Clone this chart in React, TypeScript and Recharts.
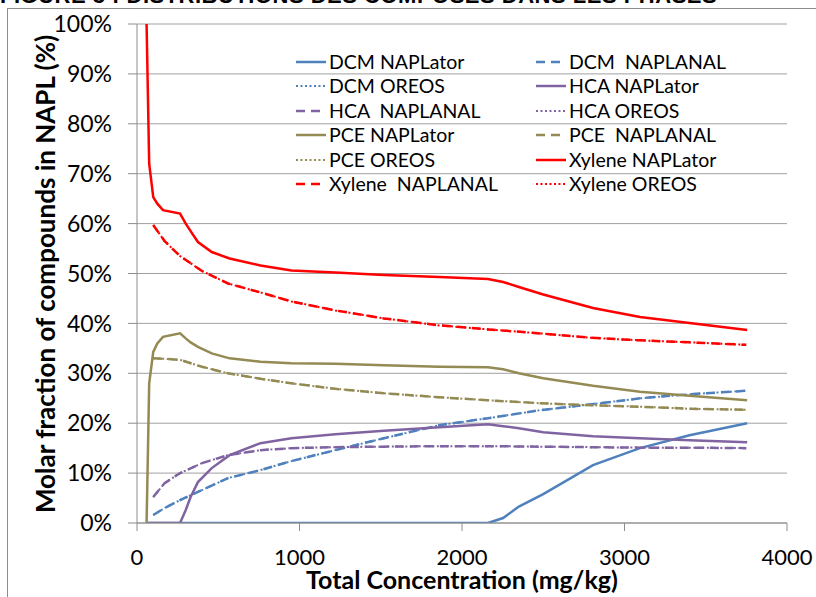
import { LineChart, Line, XAxis, YAxis, CartesianGrid, Legend } from "recharts"

// NAPLator runs (solid)
const xLator = [59, 75, 100, 125, 160, 265, 300, 330, 375, 460, 570, 760, 950, 1220, 1520, 1860, 2160, 2253, 2350, 2500, 2806, 3095, 3400, 3755]
const dcmLator = [0, 0, 0, 0, 0, 0, 0, 0, 0, 0, 0, 0, 0, 0, 0, 0, 0, 1, 3.3, 5.8, 11.6, 15, 17.6, 20]
const hcaLator = [0, 0, 0, 0, 0, 0, 2.6, 5.2, 8.2, 11, 13.6, 16, 17, 17.8, 18.5, 19.2, 19.8, 19.4, 19, 18.2, 17.4, 17, 16.6, 16.2]
const pceLator = [0, 28, 34.3, 36, 37.3, 38, 37, 36.2, 35.3, 34, 33, 32.3, 32, 31.9, 31.6, 31.3, 31.2, 30.8, 30, 29, 27.5, 26.3, 25.5, 24.6]
const xylLator = [100, 72, 65.3, 64, 62.7, 62, 60, 58.5, 56.3, 54.3, 53, 51.6, 50.6, 50.2, 49.7, 49.3, 48.9, 48.3, 47.3, 45.8, 43.1, 41.3, 40.1, 38.7]

// NAPLANAL runs (dashed)
const xAnal = [100, 170, 265, 400, 560, 760, 950, 1220, 1520, 1860, 2160, 2480, 2800, 3100, 3400, 3750]
const dcmAnal = [1.6, 3, 4.6, 6.6, 9, 10.6, 12.4, 14.6, 17, 19.6, 21, 22.6, 23.8, 25, 25.8, 26.5]
const hcaAnal = [5.2, 8, 10, 12, 13.6, 14.6, 15, 15.2, 15.3, 15.4, 15.4, 15.3, 15.2, 15.1, 15.1, 15]
const pceAnal = [33, 32.9, 32.7, 31.3, 30, 28.9, 28, 26.9, 26, 25.2, 24.6, 24, 23.6, 23.3, 22.9, 22.7]
const xylAnal = [59.7, 56.5, 53.5, 50.5, 48, 46.2, 44.4, 42.6, 41, 39.6, 38.8, 38, 37.1, 36.6, 36.2, 35.7]

// OREOS runs (dotted) - lie on top of the NAPLANAL curves in the figure
const xOreos = [100, 170, 265, 400, 560, 760, 950, 1220, 1520, 1860, 2160, 2480, 2800, 3100, 3400, 3750]
const dcmOreos = [1.6, 3, 4.6, 6.6, 9, 10.6, 12.4, 14.6, 17, 19.6, 21, 22.6, 23.8, 25, 25.8, 26.5]
const hcaOreos = [5.2, 8, 10, 12, 13.6, 14.6, 15, 15.2, 15.3, 15.4, 15.4, 15.3, 15.2, 15.1, 15.1, 15]
const pceOreos = [33, 32.9, 32.7, 31.3, 30, 28.9, 28, 26.9, 26, 25.2, 24.6, 24, 23.6, 23.3, 22.9, 22.7]
const xylOreos = [59.7, 56.5, 53.5, 50.5, 48, 46.2, 44.4, 42.6, 41, 39.6, 38.8, 38, 37.1, 36.6, 36.2, 35.7]

const xTicks = [0, 1000, 2000, 3000, 4000]
const yTicks = [0, 10, 20, 30, 40, 50, 60, 70, 80, 90, 100]

const BLUE = "#4F81BD"
const PURPLE = "#8064A2"
const OLIVE = "#948A54"
const RED = "#FF0000"

const SOLID = undefined
const DASH = "9 6"
const DOT = "2 2.5"

const toPoints = (xs: number[], ys: number[]) => xs.map((x, i) => ({ x, y: ys[i] }))

const series = [
  { name: "DCM NAPLator", color: BLUE, dash: SOLID, data: toPoints(xLator, dcmLator) },
  { name: "DCM  NAPLANAL", color: BLUE, dash: DASH, data: toPoints(xAnal, dcmAnal) },
  { name: "DCM OREOS", color: BLUE, dash: DOT, data: toPoints(xOreos, dcmOreos) },
  { name: "HCA NAPLator", color: PURPLE, dash: SOLID, data: toPoints(xLator, hcaLator) },
  { name: "HCA  NAPLANAL", color: PURPLE, dash: DASH, data: toPoints(xAnal, hcaAnal) },
  { name: "HCA OREOS", color: PURPLE, dash: DOT, data: toPoints(xOreos, hcaOreos) },
  { name: "PCE NAPLator", color: OLIVE, dash: SOLID, data: toPoints(xLator, pceLator) },
  { name: "PCE  NAPLANAL", color: OLIVE, dash: DASH, data: toPoints(xAnal, pceAnal) },
  { name: "PCE OREOS", color: OLIVE, dash: DOT, data: toPoints(xOreos, pceOreos) },
  { name: "Xylene NAPLator", color: RED, dash: SOLID, data: toPoints(xLator, xylLator) },
  { name: "Xylene  NAPLANAL", color: RED, dash: DASH, data: toPoints(xAnal, xylAnal) },
  { name: "Xylene OREOS", color: RED, dash: DOT, data: toPoints(xOreos, xylOreos) },
]

const FONT = "Lato, 'Open Sans', sans-serif"

function LegendGrid() {
  return (
    <div style={{ display: "grid", gridTemplateColumns: "240px 220px", fontFamily: FONT, fontSize: 19.5, color: "#000" }}>
      {series.map(s => (
        <div key={s.name} style={{ display: "flex", alignItems: "center", height: 24.5 }}>
          <svg width={30} height={6} style={{ marginRight: 3 }}>
            <line x1={0} y1={3} x2={30} y2={3} stroke={s.color}
              strokeWidth={s.dash === DOT ? 2 : 2.5} strokeDasharray={s.dash} />
          </svg>
          <span style={{ whiteSpace: "pre", lineHeight: "24px" }}>{s.name}</span>
        </div>
      ))}
    </div>
  )
}

export default function App() {
  return (
    <div style={{ position: "fixed", left: 0, top: 0, width: 816, height: 597, overflow: "hidden", background: "#fff" }}>
      <div style={{
        position: "absolute", left: 0, top: -17, whiteSpace: "nowrap",
        fontFamily: "'Liberation Sans', Arial, sans-serif", fontWeight: 700, fontSize: 22, letterSpacing: 0.5,
      }}>
        FIGURE 3 : DISTRIBUTIONS DES COMPOSÉS DANS LES PHASES
      </div>
      <div style={{
        position: "absolute", left: 7, top: 8, width: 900, height: 700,
        borderLeft: "1px solid #8c8c8c", borderTop: "1px solid #8c8c8c",
      }} />
      <div style={{ position: "absolute", left: 0, top: 0 }}>
        <LineChart width={816} height={597} margin={{ top: 24, right: 29, left: 0, bottom: 0 }}>
          <CartesianGrid vertical={false} stroke="#a0a0a0" strokeWidth={1} />
          <XAxis
            type="number"
            dataKey="x"
            domain={[0, 4000]}
            ticks={xTicks}
            allowDataOverflow
            height={74}
            tick={{ fontSize: 22, fill: "#000", fontFamily: FONT }}
            tickSize={8}
            tickMargin={18}
            stroke="#8c8c8c"
            label={{
              content: () => (
                <text x={462} y={589} textAnchor="middle" fontFamily={FONT} fontWeight={700} fontSize={25} fill="#000">
                  Total Concentration (mg/kg)
                </text>
              ),
            }}
          />
          <YAxis
            type="number"
            domain={[0, 100]}
            ticks={yTicks}
            allowDataOverflow
            width={137}
            tickFormatter={(v) => `${v}%`}
            tick={{ fontSize: 23, fill: "#000", fontFamily: FONT }}
            tickSize={9}
            tickMargin={16}
            stroke="#8c8c8c"
            label={{
              content: () => (
                <text x={45} y={274} transform="rotate(-90 45 274)" textAnchor="middle" dominantBaseline="central"
                  fontFamily={FONT} fontWeight={700} fontSize={26} fill="#000">
                  Molar fraction of compounds in NAPL (%)
                </text>
              ),
            }}
          />
          {series.map(s => (
            <Line
              key={s.name}
              data={s.data}
              dataKey="y"
              name={s.name}
              type="linear"
              stroke={s.color}
              strokeWidth={s.dash === DOT ? 2 : 2.5}
              strokeDasharray={s.dash}
              dot={false}
              activeDot={false}
              isAnimationActive={false}
            />
          ))}
          <Legend
            layout="vertical"
            align="center"
            verticalAlign="middle"
            wrapperStyle={{ left: 296, top: 49.5, width: 470 }}
            content={() => <LegendGrid />}
          />
        </LineChart>
      </div>
    </div>
  )
}
